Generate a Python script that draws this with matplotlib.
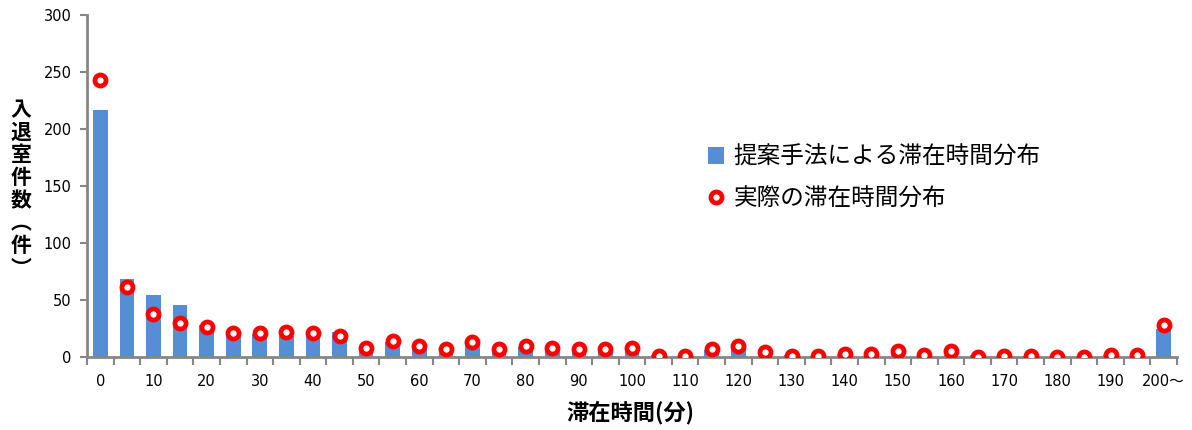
import numpy as np
import matplotlib.pyplot as plt

plt.rcParams['font.family'] = ['DejaVu Sans', 'Noto Sans CJK JP']

# 滞在時間 (分) categories, every 5 minutes
minutes = list(range(0, 205, 5))
tick_labels = [str(m) for m in range(0, 200, 10)] + ["200〜"]

# 提案手法による滞在時間分布 (bars)
proposed = [217, 68, 54, 46, 28, 22, 20, 18, 21, 22,
            8, 13, 9, 6, 12, 8, 9, 9, 7, 9,
            8, 2, 2, 6, 8, 4, 2, 3, 3, 3,
            3, 2, 2, 2, 1, 1, 1, 1, 2, 2,
            25]

# 実際の滞在時間分布 (circles)
actual = [243, 61, 38, 30, 26, 21, 21, 22, 21, 18,
          8, 14, 10, 7, 13, 7, 10, 8, 7, 7,
          8, 1, 1, 7, 10, 4, 1, 1, 3, 3,
          5, 2, 5, 0, 1, 1, 0, 0, 2, 2,
          28]

x = np.arange(len(minutes))
axis_gray = "#868686"
cjk = ["Noto Sans CJK JP", "DejaVu Sans"]

fig = plt.figure(figsize=(11.92, 4.30), dpi=100)
ax = fig.add_axes([87/1192, 1-357/430, 1090/1192, 342/430])

bars = ax.bar(x, proposed, width=0.55, color="#558ED5", label="提案手法による滞在時間分布", zorder=2)
dots, = ax.plot(x, actual, linestyle="none", marker="o", markersize=8,
                markerfacecolor="white", markeredgecolor="#FF0000", markeredgewidth=3.4,
                label="実際の滞在時間分布", zorder=3)

ax.set_xlim(-0.5, len(minutes) - 0.5)
ax.set_ylim(0, 300)
ax.set_yticks(range(0, 301, 50))

# Excel style: tick marks between categories, labels every other category
ax.set_xticks(np.arange(-0.5, len(minutes), 1.0))
ax.set_xticklabels([])
ax.set_xticks(x[::2], minor=True)
ax.set_xticklabels(tick_labels, minor=True)
ax.tick_params(axis="x", which="major", length=6, width=1.5, color=axis_gray, direction="out")
ax.tick_params(axis="x", which="minor", length=0, pad=12, labelsize=10.5)
ax.tick_params(axis="y", length=5, width=1.5, color=axis_gray, direction="out", labelsize=10.5, pad=6)

for s in ["top", "right"]:
    ax.spines[s].set_visible(False)
for s in ["left", "bottom"]:
    ax.spines[s].set_color(axis_gray)
    ax.spines[s].set_linewidth(2)

ylab = "\n".join(["入", "退", "室", "件", "数", "︵", "件", "︶"])
fig.text(21/1192, 1-189/430, ylab, ha="center", va="center", fontsize=15,
         fontweight="bold", family=cjk, linespacing=1.1)
fig.text(630/1192, 1-413/430, "滞在時間(分)", ha="center", va="center", fontsize=16,
         fontweight="bold", family=cjk)

ax.legend([bars, dots], ["提案手法による滞在時間分布", "実際の滞在時間分布"],
          loc="upper left", bbox_to_anchor=(0.55, 0.68), frameon=False,
          prop={"family": cjk, "size": 17},
          handlelength=0.7, handletextpad=0.4, labelspacing=0.8)

fig.savefig("out.png", dpi=100)
